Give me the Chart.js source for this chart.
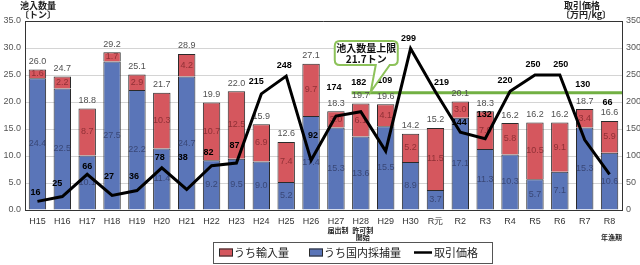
<!DOCTYPE html>
<html><head><meta charset="utf-8">
<script src="https://cdn.jsdelivr.net/npm/chart.js@4/dist/chart.umd.min.js"></script>
<style>html,body{margin:0;padding:0;background:#fff;}#wrap{width:640px;height:265px;}</style>
</head><body><div id="wrap"><canvas id="c" width="640" height="265"></canvas></div>
<script>
// ---- data ----
const categories = ['H15','H16','H17','H18','H19','H20','H21','H22','H23','H24','H25','H26','H27','H28','H29','H30','R元','R2','R3','R4','R5','R6','R7','R8'];
const subLabels = [[],[],[],[],[],[],[],[],[],[],[],[],['届出制'],['許可制','開始'],[],[],[],[],[],[],[],[],[],['','年漁期']];
const domestic = [24.4,22.5,10.1,27.5,22.2,11.4,24.7,9.2,9.5,9.0,5.2,17.4,15.3,13.6,15.5,8.9,3.7,17.1,11.3,10.3,5.7,7.1,15.3,10.6];
const imports  = [1.6,2.2,8.7,1.7,2.9,10.3,4.2,10.7,12.5,6.9,7.4,9.7,3.0,6.1,4.1,5.2,11.5,3.0,7.0,5.8,10.5,9.1,3.4,5.9];
const totals   = [26.0,24.7,18.8,29.2,25.1,21.7,28.9,19.9,22.0,15.9,12.6,27.1,18.3,19.7,19.6,14.2,15.2,20.1,18.3,16.2,16.2,16.2,18.7,16.6];
const price    = [16,25,66,27,36,78,38,82,87,215,248,92,174,182,109,299,219,144,132,220,250,250,130,66];
const capValue = 21.7;
const capText = ['池入数量上限','21.7トン'];
const seriesNames = ['うち輸入量','うち国内採捕量','取引価格'];
const leftTitle = ['池入数量','〔トン〕'];
const rightTitle = ['取引価格','〔万円/kg〕'];

// ---- layout / style ----
const BLUE = '#5a75b8', RED = '#d5575e', EDGE = '#2a2a2a', GREEN = '#72b043';
const NUM_FONT = '"Liberation Sans", Arial, sans-serif';
const JP_FONT = '"Noto Sans CJK JP", sans-serif';
const priceLabelShift = [[-2,-9],[-5,-13],[0,-8],[-3,-19],[-3,-14],[-2,-10],[-4,-32],[-3,-13],[-2,-18],[-5,-12],[-2,-11],[2,-25],[-2,-29],[-2,-29],[-1,-71],[-2,-10],[6,-9],[-1,-10],[-1,-24],[-5,-11],[-2,-10],[1,-10],[-2,-55],[-2,-72]];
const capStartIndex = 12.63, capTipIndex = 13.4;

const labelPlugin = {
  id: 'labels',
  afterDatasetDraw(chart, args) {
    if (args.index !== 0) return;
    const ctx = chart.ctx;
    const d0 = chart.getDatasetMeta(0).data, d1 = chart.getDatasetMeta(1).data;
    const ys = chart.scales.y, xs = chart.scales.x, area = chart.chartArea;
    ctx.save();
    const gy = ys.getPixelForValue(capValue);
    ctx.strokeStyle = GREEN; ctx.lineWidth = 3;
    ctx.beginPath(); ctx.moveTo(xs.getPixelForValue(capStartIndex), gy); ctx.lineTo(area.right, gy); ctx.stroke();
    ctx.textAlign = 'center'; ctx.textBaseline = 'middle';
    ctx.font = '9px ' + NUM_FONT;
    for (let i = 0; i < categories.length; i++) {
      const b = d0[i], r = d1[i];
      ctx.fillStyle = 'rgba(45,55,95,0.75)';
      ctx.fillText(domestic[i].toFixed(1), b.x, (b.y + b.base) / 2);
      ctx.fillStyle = 'rgba(120,35,40,0.75)';
      ctx.fillText(imports[i].toFixed(1), r.x, (r.y + r.base) / 2);
      ctx.fillStyle = '#505050';
      ctx.fillText(totals[i].toFixed(1), r.x, r.y - 8);
    }
    ctx.restore();
  },
  afterDatasetsDraw(chart) {
    const ctx = chart.ctx, area = chart.chartArea;
    const pm = chart.getDatasetMeta(2).data;
    const xs = chart.scales.x, ys = chart.scales.y;
    ctx.save();
    ctx.strokeStyle = '#333'; ctx.lineWidth = 1;
    ctx.beginPath(); ctx.moveTo(area.left, area.top + 0.5); ctx.lineTo(area.right, area.top + 0.5); ctx.stroke();
    ctx.textAlign = 'center'; ctx.textBaseline = 'middle';
    ctx.font = 'bold 9px ' + NUM_FONT; ctx.fillStyle = '#000';
    pm.forEach((p, i) => ctx.fillText(String(price[i]), p.x + priceLabelShift[i][0], p.y + priceLabelShift[i][1]));
    // callout
    const tx = xs.getPixelForValue(capTipIndex), ty = ys.getPixelForValue(capValue);
    const L = tx - 36, R = tx + 27, T = area.top + 20, B = area.top + 44, rr = 5;
    ctx.beginPath();
    ctx.moveTo(L + rr, T); ctx.lineTo(R - rr, T); ctx.quadraticCurveTo(R, T, R, T + rr);
    ctx.lineTo(R, B - rr); ctx.quadraticCurveTo(R, B, R - rr, B);
    ctx.lineTo(tx + 19, B); ctx.lineTo(tx, ty - 1); ctx.lineTo(tx + 5, B);
    ctx.lineTo(L + rr, B); ctx.quadraticCurveTo(L, B, L, B - rr);
    ctx.lineTo(L, T + rr); ctx.quadraticCurveTo(L, T, L + rr, T); ctx.closePath();
    ctx.fillStyle = '#fff'; ctx.fill();
    ctx.strokeStyle = '#8dc25a'; ctx.lineWidth = 2; ctx.stroke();
    ctx.fillStyle = '#111'; ctx.font = 'bold 10px ' + JP_FONT;
    ctx.fillText(capText[0], (L + R) / 2, T + 7);
    ctx.fillText(capText[1], (L + R) / 2, T + 18);
    // sub labels under categories
    ctx.font = 'bold 7px ' + JP_FONT; ctx.fillStyle = '#222';
    subLabels.forEach((arr, i) => arr.forEach((s, k) => { if (s) ctx.fillText(s, xs.getPixelForValue(i) + 2, area.bottom + 20 + k * 7); }));
    // axis titles
    ctx.font = 'bold 9px ' + JP_FONT; ctx.fillStyle = '#222';
    ctx.fillText(leftTitle[0], area.left + 13, 6);
    ctx.fillText(leftTitle[1], area.left + 13, 15);
    ctx.fillText(rightTitle[0], area.right - 40, 6);
    ctx.fillText(rightTitle[1], area.right - 36, 15);
    // legend
    const lt = area.bottom + 32, lb = area.bottom + 53, ll = 213, lr = 492, cy = (lt + lb) / 2;
    ctx.strokeStyle = '#555'; ctx.lineWidth = 1;
    ctx.strokeRect(ll + 0.5, lt + 0.5, lr - ll, lb - lt);
    ctx.textAlign = 'left'; ctx.font = '11px ' + JP_FONT; ctx.fillStyle = '#222';
    const sw = (x, c) => { ctx.fillStyle = c; ctx.fillRect(x, cy - 4, 14, 8); ctx.strokeStyle = EDGE; ctx.strokeRect(x + 0.5, cy - 3.5, 13, 7); };
    sw(219, RED); ctx.fillStyle = '#222'; ctx.fillText(seriesNames[0], 234, cy);
    sw(309, BLUE); ctx.fillStyle = '#222'; ctx.fillText(seriesNames[1], 324, cy);
    ctx.strokeStyle = '#000'; ctx.lineWidth = 2.5;
    ctx.beginPath(); ctx.moveTo(414, cy); ctx.lineTo(432, cy); ctx.stroke();
    ctx.fillStyle = '#222'; ctx.fillText(seriesNames[2], 434, cy);
    ctx.restore();
  }
};

new Chart(document.getElementById('c'), {
  data: {
    labels: categories,
    datasets: [
      { type: 'bar', label: seriesNames[1], data: domestic, backgroundColor: BLUE, borderColor: EDGE, borderWidth: 1, yAxisID: 'y', order: 1, barPercentage: 0.7, categoryPercentage: 1 },
      { type: 'bar', label: seriesNames[0], data: imports, backgroundColor: RED, borderColor: EDGE, borderWidth: 1, yAxisID: 'y', order: 1, barPercentage: 0.7, categoryPercentage: 1 },
      { type: 'line', label: seriesNames[2], data: price, borderColor: '#000', borderWidth: 3, pointRadius: 0, tension: 0, yAxisID: 'y1', order: 0 }
    ]
  },
  options: {
    responsive: false, animation: false, devicePixelRatio: 1,
    layout: { padding: { top: 21, left: 0, right: 0, bottom: 0 } },
    plugins: { legend: { display: false }, tooltip: { enabled: false } },
    scales: {
      x: { stacked: true, grid: { display: false, drawTicks: false }, border: { display: true, color: '#333' },
           ticks: { font: { size: 9, family: NUM_FONT }, color: '#333', padding: 6, maxRotation: 0, autoSkip: false },
           afterFit: s => { s.height = 55; } },
      y: { stacked: true, min: 0, max: 35, position: 'left',
           ticks: { stepSize: 5, callback: v => v.toFixed(1), font: { size: 9, family: NUM_FONT }, color: '#555', padding: 4 },
           grid: { color: '#d4d4d4', drawTicks: false }, border: { display: true, color: '#333' },
           afterFit: s => { s.width = 25; } },
      y1: { min: 0, max: 350, position: 'right',
           ticks: { stepSize: 50, font: { size: 9, family: NUM_FONT }, color: '#555', padding: 4 },
           grid: { drawOnChartArea: false, drawTicks: false }, border: { display: true, color: '#333' },
           afterFit: s => { s.width = 18; } }
    }
  },
  plugins: [labelPlugin]
});
</script></body></html>
